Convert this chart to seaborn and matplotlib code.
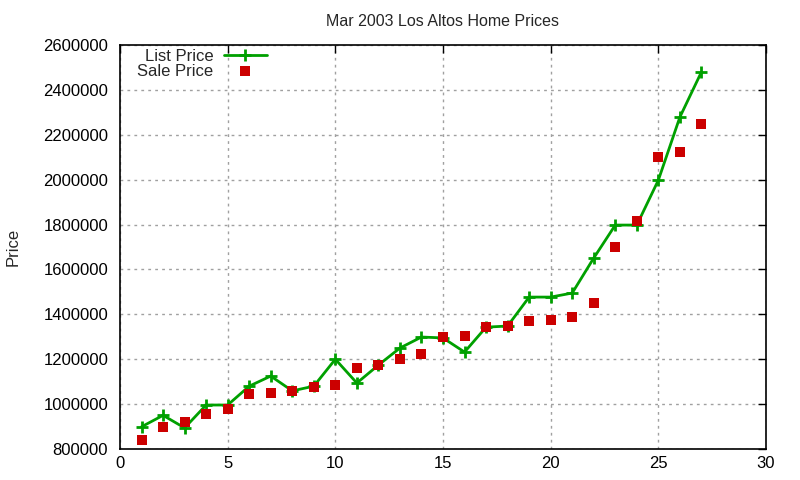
import pandas as pd
import seaborn as sns
import matplotlib.pyplot as plt

# house number (order of listing) and prices
house = list(range(1, 28))
list_price = [899000, 950000, 894000, 996000, 996000, 1080000, 1125000, 1059000, 1080000,
              1200000, 1094000, 1174000, 1250000, 1299000, 1295000, 1232000, 1343000, 1348000,
              1477000, 1477000, 1495000, 1651000, 1798000, 1798000, 1998000, 2279000, 2480000]
sale_price = [840000, 898000, 920000, 956000, 978000, 1045000, 1049000, 1059000, 1076000,
              1085000, 1161000, 1174000, 1200000, 1223000, 1299000, 1303000, 1343000, 1348000,
              1370000, 1375000, 1388000, 1450000, 1700000, 1816000, 2100000, 2123000, 2248000]

df = pd.DataFrame({"House": house, "List Price": list_price, "Sale Price": sale_price})

sns.set_style("white")
plt.rcParams['font.family'] = ['Liberation Sans', 'DejaVu Sans']

fig = plt.figure(figsize=(8, 4.8), dpi=100)
ax = fig.add_axes([0.15, 0.0646, 0.8075, 0.8414])

sns.lineplot(x="House", y="List Price", data=df, ax=ax, color="#00a000", linewidth=2,
             marker="+", markersize=9, markeredgewidth=2, markeredgecolor="#00a000",
             label="List Price")
sns.scatterplot(x="House", y="Sale Price", data=df, ax=ax, color="#cc0000", marker="s",
                s=50, linewidth=0, label="Sale Price", zorder=3)

ax.set_xlim(0, 30)
ax.set_ylim(800000, 2600000)
ax.set_xticks(range(0, 31, 5))
ax.set_yticks(range(800000, 2600001, 200000))
ax.ticklabel_format(style="plain", axis="y")
ax.grid(True, color="#a0a0a0", linestyle=(0, (2, 3)), linewidth=1)
ax.tick_params(direction="in", length=6, width=1, top=True, right=True, labelsize=12,
               colors="black")
ax.tick_params(axis="y", pad=8.5)
ax.tick_params(axis="x", pad=5)
for s in ax.spines.values():
    s.set_color("black")
    s.set_linewidth(1.2)

ax.set_xlabel("")
ax.set_ylabel("Price", fontsize=12)
ax.yaxis.set_label_coords(-0.154, 0.5)
ax.set_title("Mar 2003 Los Altos Home Prices", fontsize=11.5, pad=14)

leg = ax.legend(loc="upper left", frameon=False, markerfirst=False, fontsize=12,
                handlelength=2.6, borderaxespad=0.1, labelspacing=0.0, handletextpad=0.6,
                bbox_to_anchor=(0.014, 1.012))
for t in leg.get_texts():
    t.set_ha("right")

fig.savefig("out.png", dpi=100)
